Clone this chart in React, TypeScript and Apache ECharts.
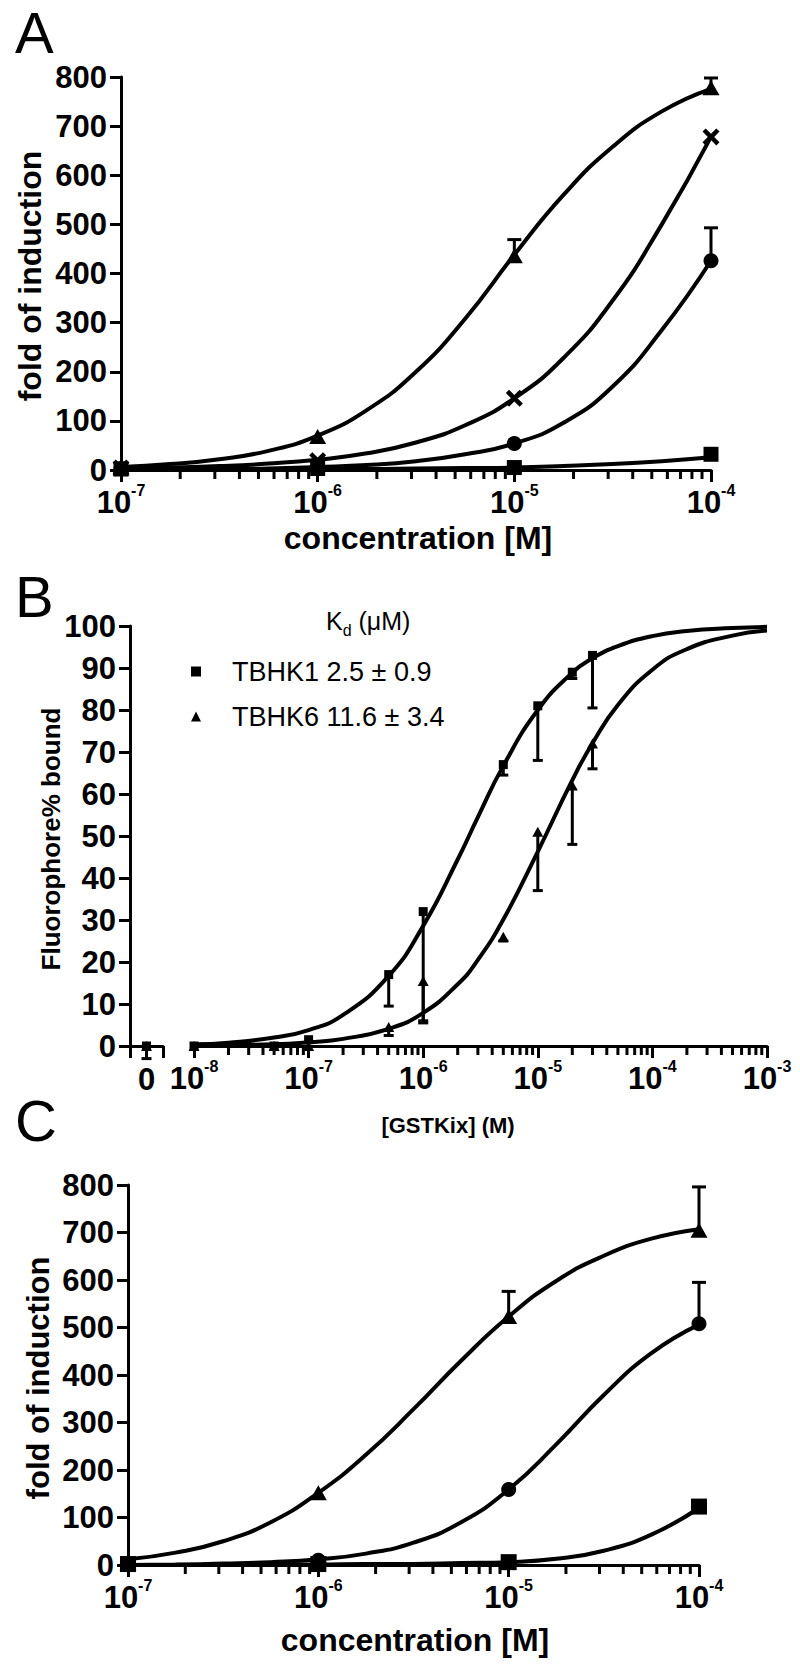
import React, { useEffect, useRef } from 'react';
import * as echarts from 'echarts';

const FONT = '"Liberation Sans", Arial, Helvetica, sans-serif';

// ---------- Panel A ----------
const concA = [1e-7, 1e-6, 1e-5, 1e-4];
const triA = [4, 68, 436, 778];
const triErrA = [0, 0, 33, 20];
const crossA = [4, 19, 146, 678];
const circA = [3, 5, 54, 426];
const circErrA = [0, 0, 0, 67];
const sqA = [2, 3, 5, 32];

const fitXA = [1e-7, 1.778e-7, 3.162e-7, 5.623e-7, 1e-6, 1.778e-6, 3.162e-6, 5.623e-6, 1e-5, 1.778e-5, 3.162e-5, 5.623e-5, 1e-4];
const fitTriA = [6, 12, 22, 39, 70, 122, 200, 308, 438, 560, 658, 730, 776];
const fitCrossA = [3, 5, 8, 13, 21, 34, 56, 91, 146, 228, 345, 500, 678];
const fitCircA = [1, 1, 2, 3, 6, 10, 18, 32, 54, 96, 170, 285, 426];
const fitSqA = [1, 1, 1, 1, 2, 2, 3, 4, 5, 8, 12, 18, 26];

// ---------- Panel B ----------
const concB = [1e-8, 5e-8, 1e-7, 5e-7, 1e-6, 5e-6, 1e-5, 2e-5, 3e-5];
const tbhk1 = [0, 0, 1.5, 17, 32, 67, 81, 89, 93];
const tbhk1Err = [0, 0, 0, 7.5, 26, 2.5, 13, 1.5, 12.5];
const tbhk6 = [0, 0, 0, 4.5, 15.5, 26, 51, 62, 72];
const tbhk6Err = [0, 0, 0, 2, 10, 1, 14, 14, 6];
const zeroB = [0];
const tbhk1Zero = [0];
const tbhk6Zero = [0];
const zeroErr = [3];

const fitXB = [1e-8, 2e-8, 5e-8, 1e-7, 2e-7, 5e-7, 1e-6, 2e-6, 3e-6, 5e-6, 1e-5, 2e-5, 3e-5, 5e-5, 1e-4, 2e-4, 5e-4, 1e-3];
const fitB1 = [0.4, 0.8, 2.0, 3.8, 7.4, 16.7, 28.6, 44.4, 54.5, 66.7, 80, 88.9, 92.3, 95.2, 97.6, 98.8, 99.5, 99.8];
const fitB6 = [0.1, 0.2, 0.4, 0.9, 1.7, 4.1, 7.9, 14.7, 20.5, 30.1, 46.3, 63.3, 72.1, 81.2, 89.6, 94.5, 97.7, 98.9];
const legendNames = ['TBHK1 2.5 ± 0.9', 'TBHK6 11.6 ± 3.4'];

// ---------- Panel C ----------
const concC = [1e-7, 1e-6, 1e-5, 1e-4];
const triC = [5, 152, 523, 705];
const triErrC = [0, 0, 53, 91];
const circC = [2, 10, 159, 508];
const circErrC = [0, 0, 0, 87];
const sqC = [2, 2, 6, 123];

const fitXC = fitXA;
const fitTriC = [12, 26, 50, 90, 152, 232, 328, 430, 523, 598, 651, 687, 707];
const fitCircC = [0, 1, 3, 6, 12, 24, 47, 90, 159, 254, 358, 446, 506];
const fitSqC = [0, 0, 0, 1, 1, 2, 2, 4, 6, 13, 30, 64, 120];

const CROSS = 'path://M0,3 L3,0 L8,5 L13,0 L16,3 L11,8 L16,13 L13,16 L8,11 L3,16 L0,13 L5,8 Z';

const BLACK = '#000';
const axisLine = { show: true, onZero: false, lineStyle: { color: BLACK, width: 3 } };
const axisTick = { show: true, length: 12, inside: false, lineStyle: { color: BLACK, width: 3 } };

function logXAxis(gridIndex: number, min: number, max: number) {
  return {
    type: 'log', logBase: 10, gridIndex, min, max,
    axisLine, axisTick,
    minorTick: { show: false },
    splitLine: { show: false },
    axisLabel: {
      show: true, margin: 12, showMinLabel: true, showMaxLabel: true,
      formatter: (v: number) => `{b|10}{s|${Math.round(Math.log10(v))}}`,
      rich: {
        b: { fontSize: 31, fontWeight: 'bold', fontFamily: FONT, color: BLACK, lineHeight: 36, verticalAlign: 'bottom' },
        s: { fontSize: 16, fontWeight: 'bold', fontFamily: FONT, color: BLACK, lineHeight: 18, verticalAlign: 'top' },
      },
    },
  };
}

function valYAxis(gridIndex: number, min: number, max: number, interval: number, show = true) {
  return {
    type: 'value', gridIndex, min, max, interval, show,
    axisLine, axisTick: { ...axisTick, length: 11 },
    splitLine: { show: false },
    axisLabel: { show: true, margin: 14, fontSize: 31, fontWeight: 'bold', fontFamily: FONT, color: BLACK },
  };
}

function minorTickData(fromExp: number, toExp: number) {
  const out: number[][] = [];
  for (let e = fromExp; e < toExp; e++) {
    for (let k = 2; k <= 9; k++) out.push([k * Math.pow(10, e), 0]);
  }
  return out;
}

function minorTickSeries(axisIndex: number, fromExp: number, toExp: number) {
  return {
    type: 'custom', xAxisIndex: axisIndex, yAxisIndex: axisIndex, silent: true, z: 1, clip: false,
    data: minorTickData(fromExp, toExp),
    renderItem: (_p: any, api: any) => {
      const p = api.coord([api.value(0), api.value(1)]);
      return { type: 'line', shape: { x1: p[0], y1: p[1], x2: p[0], y2: p[1] + 9 }, style: { stroke: BLACK, lineWidth: 3 } };
    },
  };
}

function errorSeries(axisIndex: number, data: number[][], cap = 14) {
  return {
    type: 'custom', xAxisIndex: axisIndex, yAxisIndex: axisIndex, silent: true, z: 3, clip: false,
    data,
    renderItem: (_p: any, api: any) => {
      const a = api.coord([api.value(0), api.value(1)]);
      const b = api.coord([api.value(0), api.value(2)]);
      return {
        type: 'group',
        children: [
          { type: 'line', shape: { x1: a[0], y1: a[1], x2: b[0], y2: b[1] }, style: { stroke: BLACK, lineWidth: 3 } },
          { type: 'line', shape: { x1: b[0] - cap / 2, y1: b[1], x2: b[0] + cap / 2, y2: b[1] }, style: { stroke: BLACK, lineWidth: 3 } },
        ],
      };
    },
  };
}

function upBars(x: number[], y: number[], err: number[]) {
  return x.map((c, i) => [c, y[i], y[i] + err[i]]).filter((_d, i) => err[i] > 0);
}
function downBars(x: number[], y: number[], err: number[]) {
  return x.map((c, i) => [c, y[i], y[i] - err[i]]).filter((_d, i) => err[i] > 0);
}

function curve(axisIndex: number, xs: number[], ys: number[], name: string) {
  return {
    type: 'line', name, xAxisIndex: axisIndex, yAxisIndex: axisIndex, clip: false,
    data: xs.map((x, i) => [x, ys[i]]),
    smooth: 0.5, showSymbol: false, symbol: 'none',
    lineStyle: { color: BLACK, width: 4 }, z: 2, silent: true,
  };
}

function marks(axisIndex: number, xs: number[], ys: number[], symbol: string, size: any, name: string) {
  return {
    type: 'scatter', name, xAxisIndex: axisIndex, yAxisIndex: axisIndex, clip: false,
    data: xs.map((x, i) => [x, ys[i]]), symbol, symbolSize: size,
    itemStyle: { color: BLACK, opacity: 1 }, z: 4, silent: true,
  };
}

function buildOption(): any {
  const titleBold = (text: string, x: number, y: number, size: number, rot = 0) => ({
    type: 'text', x, y, rotation: rot,
    style: { text, fontSize: size, fontWeight: 'bold', fontFamily: FONT, fill: BLACK, align: 'center', verticalAlign: 'middle' },
  });
  const panelLetter = (text: string, x: number, y: number) => ({
    type: 'text', x, y,
    style: { text, fontSize: 58, fontFamily: FONT, fill: BLACK, align: 'left', verticalAlign: 'middle' },
  });

  return {
    animation: false,
    backgroundColor: '#fff',
    grid: [
      { left: 121, top: 77, width: 590, height: 393, outerBoundsMode: 'none' },
      { left: 130, top: 626, width: 33, height: 420, outerBoundsMode: 'none' },
      { left: 194, top: 626, width: 573, height: 420, outerBoundsMode: 'none' },
      { left: 128, top: 1185, width: 571, height: 380, outerBoundsMode: 'none' },
    ],
    xAxis: [
      logXAxis(0, 1e-7, 1e-4),
      {
        type: 'value', gridIndex: 1, min: -1, max: 1, interval: 1,
        axisLine, axisTick, splitLine: { show: false },
        axisLabel: {
          show: true, margin: 18, showMinLabel: true, showMaxLabel: true,
          fontSize: 31, fontWeight: 'bold', fontFamily: FONT, color: BLACK,
          formatter: (v: number) => (v === 0 ? '0' : ''),
        },
      },
      logXAxis(2, 1e-8, 1e-3),
      logXAxis(3, 1e-7, 1e-4),
    ],
    yAxis: [
      valYAxis(0, 0, 800, 100),
      valYAxis(1, 0, 100, 10),
      valYAxis(2, 0, 100, 10, false),
      valYAxis(3, 0, 800, 100),
    ],
    legend: {
      show: true, orient: 'vertical', left: 186, top: 653, itemGap: 18,
      itemWidth: 10, itemHeight: 10, selectedMode: false,
      data: [{ name: legendNames[0], icon: 'rect' }, { name: legendNames[1], icon: 'triangle' }],
      textStyle: { fontSize: 27, fontFamily: FONT, color: BLACK, padding: [0, 0, 0, 26] },
    },
    graphic: [
      panelLetter('A', 15, 32),
      panelLetter('B', 15, 596),
      panelLetter('C', 15, 1120),
      titleBold('fold of induction', 30, 276, 32, Math.PI / 2),
      titleBold('concentration [M]', 418, 538, 32),
      titleBold('Fluorophore% bound', 51, 839, 26, Math.PI / 2),
      titleBold('[GSTKix] (M)', 448, 1125, 22),
      {
        type: 'text', x: 326, y: 623,
        style: {
          text: '{k|K}{d|d}{k| (μM)}', fontFamily: FONT, fill: BLACK, align: 'left', verticalAlign: 'middle',
          rich: {
            k: { fontSize: 25, fontFamily: FONT, fill: BLACK, lineHeight: 30, verticalAlign: 'top' },
            d: { fontSize: 16, fontFamily: FONT, fill: BLACK, lineHeight: 17, verticalAlign: 'bottom' },
          },
        },
      },
      titleBold('fold of induction', 38, 1378, 31, Math.PI / 2),
      titleBold('concentration [M]', 415, 1640, 32),
    ],
    series: [
      // Panel A
      minorTickSeries(0, -7, -4),
      curve(0, fitXA, fitTriA, 'A fit tri'),
      curve(0, fitXA, fitCrossA, 'A fit cross'),
      curve(0, fitXA, fitCircA, 'A fit circ'),
      curve(0, fitXA, fitSqA, 'A fit sq'),
      errorSeries(0, [...upBars(concA, triA, triErrA), ...upBars(concA, circA, circErrA)]),
      marks(0, concA, sqA, 'rect', 15, 'A sq'),
      marks(0, concA, circA, 'circle', 15, 'A circ'),
      marks(0, concA, crossA, CROSS, 17, 'A cross'),
      marks(0, concA, triA, 'triangle', [17, 15], 'A tri'),
      // Panel B (zero segment)
      errorSeries(1, downBars(zeroB, tbhk1Zero, zeroErr), 10),
      marks(1, zeroB, tbhk1Zero, 'rect', 9, 'B0 sq'),
      marks(1, zeroB, tbhk6Zero, 'triangle', [11, 10], 'B0 tri'),
      // Panel B (log segment)
      minorTickSeries(2, -8, -3),
      curve(2, fitXB, fitB1, 'B fit 1'),
      curve(2, fitXB, fitB6, 'B fit 6'),
      errorSeries(2, [...downBars(concB, tbhk1, tbhk1Err), ...downBars(concB, tbhk6, tbhk6Err)], 10),
      marks(2, concB, tbhk1, 'rect', 9, legendNames[0]),
      marks(2, concB, tbhk6, 'triangle', [11, 10], legendNames[1]),
      // Panel C
      minorTickSeries(3, -7, -4),
      curve(3, fitXC, fitTriC, 'C fit tri'),
      curve(3, fitXC, fitCircC, 'C fit circ'),
      curve(3, fitXC, fitSqC, 'C fit sq'),
      errorSeries(3, [...upBars(concC, triC, triErrC), ...upBars(concC, circC, circErrC)]),
      marks(3, concC, sqC, 'rect', 16, 'C sq'),
      marks(3, concC, circC, 'circle', 15, 'C circ'),
      marks(3, concC, triC, 'triangle', [17, 15], 'C tri'),
    ],
  };
}

export default function App() {
  const ref = useRef<HTMLDivElement>(null);
  useEffect(() => {
    document.body.style.margin = '0';
    const chart = echarts.init(ref.current as HTMLDivElement, null, { renderer: 'svg' });
    chart.setOption(buildOption());
    return () => chart.dispose();
  }, []);
  return <div ref={ref} style={{ width: 800, height: 1665, background: '#fff' }} />;
}
